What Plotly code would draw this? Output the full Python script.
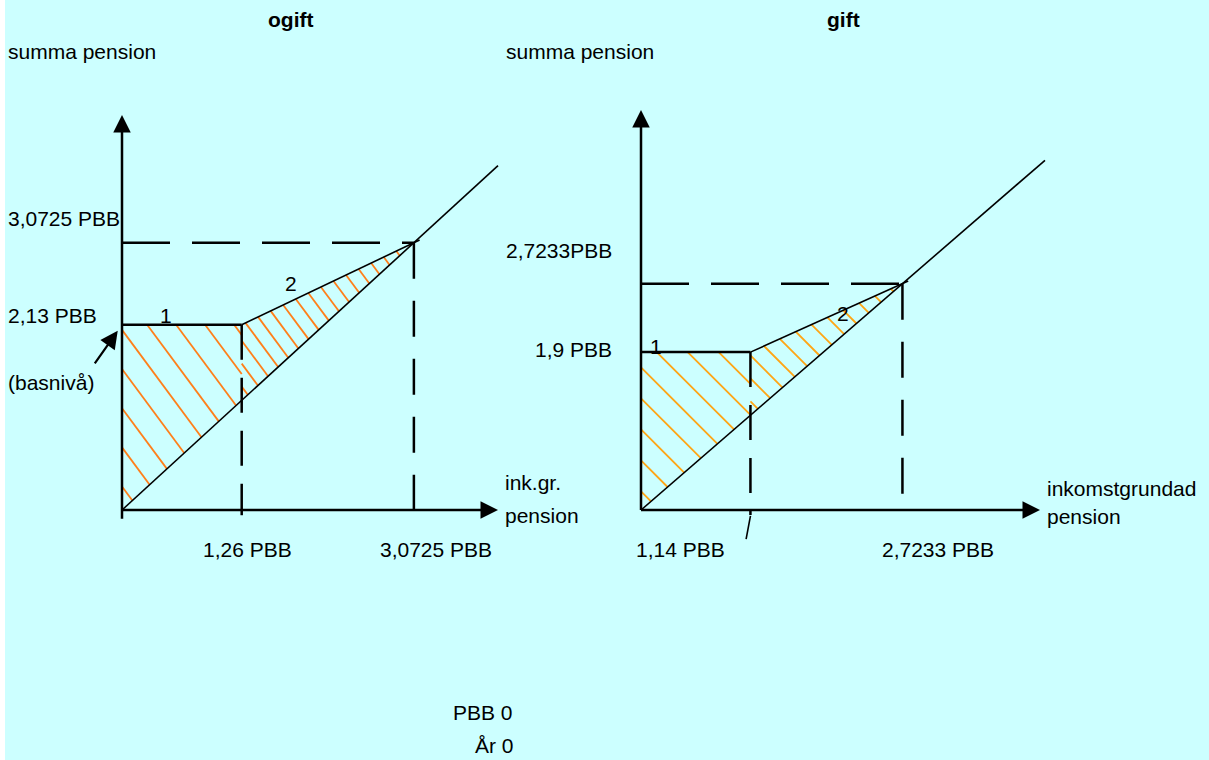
import plotly.graph_objects as go

W, H = 1209, 760

# ---- data (values in PBB) ----
panel_titles = ["ogift", "gift"]
base_level = [2.13, 1.9]          # summa pension at basnivå
break_point = [1.26, 1.14]        # inkomstgrundad pension where region 1 ends
full_level = [3.0725, 2.7233]     # point where guarantee ends
base_labels = ["2,13 PBB", "1,9 PBB"]
break_labels = ["1,26 PBB", "1,14 PBB"]
full_labels_y = ["3,0725 PBB", "2,7233PBB"]
full_labels_x = ["3,0725 PBB", "2,7233 PBB"]
x_titles = [["ink.gr.", "pension"], ["inkomstgrundad", "pension"]]
y_title = "summa pension"
region_labels = ["1", "2"]
basniva_label = "(basnivå)"
pbb_value = 0
year_value = 0

# ---- layout geometry (pixels) ----
origin_px = [(122, 510), (641, 510)]
scale_px = [(95.0, 87.0), (96.0, 83.1)]
x_tip_px = [498, 1040]
y_tip_px = [115, 110]
diag_end_px = [498, 1045]
hatch_colors = ["#FF7F1A", "#FFA514"]
hatch_slope = [1.35, 1.0]          # pixel slope of hatch lines (down-right)
hatch_step1 = [29, 31]             # horizontal spacing, region 1
hatch_step2 = [17, 23]             # horizontal spacing, region 2

FONT = "Liberation Sans"
FS = 21

fig = go.Figure()
layout_axes = {}


def hatch_segments(poly_px, slope, step, phase=0.6):
    """Clip parallel lines (direction (1, slope) in pixel space) to a convex polygon."""
    n = (slope, -1.0)
    vals = [n[0] * p[0] + n[1] * p[1] for p in poly_px]
    cmin, cmax = min(vals), max(vals)
    dc = slope * step
    segs = []
    c = cmin + dc * phase
    while c < cmax:
        pts = []
        m = len(poly_px)
        for j in range(m):
            p1, p2 = poly_px[j], poly_px[(j + 1) % m]
            f1 = n[0] * p1[0] + n[1] * p1[1] - c
            f2 = n[0] * p2[0] + n[1] * p2[1] - c
            if (f1 < 0) != (f2 < 0):
                t = f1 / (f1 - f2)
                pts.append((p1[0] + t * (p2[0] - p1[0]), p1[1] + t * (p2[1] - p1[1])))
        if len(pts) >= 2:
            segs.append((pts[0], pts[1]))
        c += dc
    return segs


for i in range(2):
    ox, oy = origin_px[i]
    sx, sy = scale_px[i]
    xa = "x" if i == 0 else "x2"
    ya = "y" if i == 0 else "y2"
    xk = "xaxis" if i == 0 else "xaxis2"
    yk = "yaxis" if i == 0 else "yaxis2"
    layout_axes[xk] = dict(domain=[0, 1], range=[-ox / sx, (W - ox) / sx],
                           visible=False, fixedrange=True)
    layout_axes[yk] = dict(domain=[0, 1], range=[-(H - oy) / sy, oy / sy],
                           visible=False, fixedrange=True)
    if i == 1:
        layout_axes[xk]["anchor"] = "y2"
        layout_axes[xk]["overlaying"] = "x"
        layout_axes[yk]["anchor"] = "x2"
        layout_axes[yk]["overlaying"] = "y"

    to_px = lambda x, y: (ox + x * sx, oy - y * sy)
    to_data = lambda p: ((p[0] - ox) / sx, (oy - p[1]) / sy)

    b = base_level[i]
    k = break_point[i]
    f = full_level[i]
    x_end = (x_tip_px[i] - ox) / sx
    y_end = (oy - y_tip_px[i]) / sy
    d_end = (diag_end_px[i] - ox) / sx

    def line(xs, ys, width=2, dash="solid", color="black"):
        fig.add_trace(go.Scatter(x=xs, y=ys, mode="lines", xaxis=xa, yaxis=ya,
                                 line=dict(color=color, width=width, dash=dash),
                                 hoverinfo="skip", showlegend=False))

    # hatched regions (computed from the region polygons)
    region1 = [to_px(0, 0), to_px(0, b), to_px(k, b), to_px(k, k)]
    region2 = [to_px(k, b), to_px(f, f), to_px(k, k)]
    hx, hy = [], []
    for poly, step in [(region1, hatch_step1[i]), (region2, hatch_step2[i])]:
        for p1, p2 in hatch_segments(poly, hatch_slope[i], step):
            d1, d2 = to_data(p1), to_data(p2)
            hx += [d1[0], d2[0], None]
            hy += [d1[1], d2[1], None]
    line(hx, hy, width=1.8, color=hatch_colors[i])

    # dashed guide lines
    line([0, f], [f, f], width=2.5, dash="48px,22px")
    line([f, f], [f, 0], width=2.5, dash="36px,22px")
    line([k, k], [b, -0.06], width=2.5, dash="35px,18px")
    # rectangle top (basnivå)
    line([0, k], [b, b], width=2.5)
    # upper boundary of region 2 (slightly past the end point)
    line([k, f + 0.06], [b, f + 0.06 * (f - b) / (f - k)], width=1.6)
    # diagonal (summa = inkomstgrundad)
    line([0, d_end], [0, d_end], width=1.6)
    # axes
    line([0, 0], [-0.1 if i == 0 else 0, y_end - 0.15], width=2.5)
    line([0, x_end - 0.15], [0, 0], width=2.5)
    if i == 1:
        line([k, k - 0.045], [-0.07, -0.35], width=1.6)

    # arrowheads for axes
    fig.add_annotation(x=x_end, y=0, xref=xa, yref=ya, ax=-16, ay=0,
                       axref="pixel", ayref="pixel", text="", showarrow=True,
                       arrowhead=2, arrowsize=1.4, arrowwidth=2.5, arrowcolor="black",
                       standoff=0)
    fig.add_annotation(x=0, y=y_end, xref=xa, yref=ya, ax=0, ay=16,
                       axref="pixel", ayref="pixel", text="", showarrow=True,
                       arrowhead=2, arrowsize=1.4, arrowwidth=2.5, arrowcolor="black",
                       standoff=0)

# basnivå arrow (left panel)
fig.add_annotation(x=-0.045, y=base_level[0] - 0.07, xref="x", yref="y",
                   ax=-24, ay=34, text="", showarrow=True, arrowhead=2,
                   arrowsize=1.6, arrowwidth=2.2, arrowcolor="black", standoff=0)


def P(x, y):
    return x / W, 1 - y / H


def txt(s, x, y, xanchor="left", bold=False, size=FS):
    px, py = P(x, y)
    fig.add_annotation(x=px, y=py, xref="paper", yref="paper",
                       text=(f"<b>{s}</b>" if bold else s),
                       showarrow=False, xanchor=xanchor, yanchor="middle",
                       font=dict(family=FONT, size=size, color="black"))


# titles
txt(panel_titles[0], 290, 20, "center", bold=True, size=21)
txt(panel_titles[1], 843, 20, "center", bold=True, size=21)
txt(y_title, 6, 52)
txt(y_title, 504, 52)
# left panel labels
txt(full_labels_y[0], 6, 218)
txt(base_labels[0], 6, 316)
txt(region_labels[0], 166, 315, "center")
txt(region_labels[1], 291, 283, "center")
txt(basniva_label, 6, 383)
txt(x_titles[0][0], 503, 482)
txt(x_titles[0][1], 503, 515)
txt(break_labels[0], 201, 549)
txt(full_labels_x[0], 378, 549)
# right panel labels
txt(full_labels_y[1], 504, 250)
txt(base_labels[1], 533, 349)
txt(region_labels[0], 656, 347, "center")
txt(region_labels[1], 843, 313, "center")
txt(x_titles[1][0], 1045, 488)
txt(x_titles[1][1], 1045, 516)
txt(break_labels[1], 634, 549)
txt(full_labels_x[1], 880, 549)
# footer
txt(f"PBB {pbb_value}", 451, 712)
txt(f"År {year_value}", 473, 745)

fig.update_layout(width=W, height=H, margin=dict(l=0, r=0, t=0, b=0),
                  paper_bgcolor="#CCFFFF", plot_bgcolor="rgba(0,0,0,0)",
                  showlegend=False,
                  shapes=[dict(type="rect", xref="paper", yref="paper",
                               x0=0, x1=5 / W, y0=0, y1=1,
                               fillcolor="white", line=dict(width=0), layer="below")],
                  **layout_axes)

fig.write_html("out.html", config={"displayModeBar": False},
               post_script="document.body.style.margin='0';")
